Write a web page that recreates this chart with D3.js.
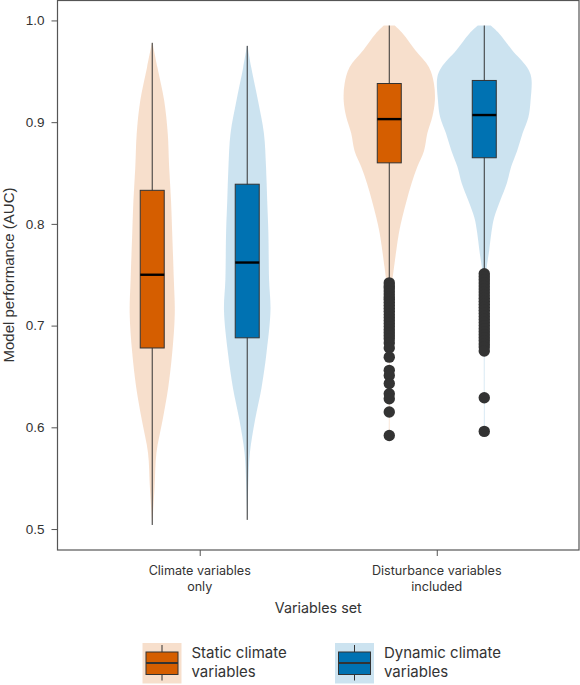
<!DOCTYPE html>
<html>
<head>
<meta charset="utf-8">
<style>
  html, body { margin: 0; padding: 0; background: #fff; }
  svg { display: block; }
  text { font-family: "Inter", sans-serif; fill: #333; }
</style>
<script src="https://cdn.jsdelivr.net/npm/d3@7"></script>
</head>
<body>
<svg width="580" height="685"></svg>
<script>
// categories and legend
var categories = ["Climate variables only", "Disturbance variables included"];
var categoryLines = [["Climate variables", "only"], ["Disturbance variables", "included"]];
var groups = ["static", "dynamic"];
var groupLines = [["Static climate", "variables"], ["Dynamic climate", "variables"]];
var yTicks = [0.5, 0.6, 0.7, 0.8, 0.9, 1.0];

// violin outlines: AUC and relative density
var climStaticAuc = [0.978, 0.954, 0.921, 0.889, 0.856, 0.823, 0.791, 0.745, 0.712, 0.673, 0.639, 0.607, 0.575, 0.541, 0.504];
var climStaticDens = [0.006, 0.11, 0.255, 0.33, 0.36, 0.40, 0.425, 0.46, 0.48, 0.425, 0.34, 0.22, 0.09, 0.05, 0];
var climDynamicAuc = [0.975, 0.954, 0.921, 0.889, 0.856, 0.823, 0.791, 0.745, 0.715, 0.673, 0.639, 0.607, 0.575, 0.541, 0.509];
var climDynamicDens = [0.006, 0.085, 0.23, 0.355, 0.40, 0.425, 0.45, 0.465, 0.495, 0.41, 0.305, 0.165, 0.057, 0.02, 0];
var distStaticAuc = [0.995, 0.987, 0.971, 0.954, 0.938, 0.921, 0.905, 0.889, 0.872, 0.856, 0.840, 0.823, 0.806, 0.791, 0.774, 0.757, 0.745, 0.735, 0.686, 0.590];
var distStaticDens = [0.117, 0.29, 0.55, 0.845, 0.95, 0.97, 0.915, 0.81, 0.74, 0.595, 0.475, 0.37, 0.275, 0.205, 0.15, 0.10, 0.065, 0.02, 0.008, 0.008];
var distDynamicAuc = [0.995, 0.987, 0.971, 0.954, 0.944, 0.921, 0.905, 0.889, 0.872, 0.856, 0.840, 0.823, 0.806, 0.791, 0.774, 0.757, 0.745, 0.725, 0.597];
var distDynamicDens = [0.138, 0.32, 0.59, 0.91, 1, 0.985, 0.94, 0.815, 0.70, 0.57, 0.48, 0.34, 0.21, 0.15, 0.105, 0.05, 0.02, 0.012, 0.008];

// box stats, one entry per violin: clim static, clim dynamic, dist static, dist dynamic
var whiskerHigh = [0.978, 0.975, 0.995, 0.995];
var q3 = [0.833, 0.839, 0.938, 0.941];
var medians = [0.750, 0.762, 0.903, 0.907];
var q1 = [0.678, 0.688, 0.860, 0.865];
var whiskerLow = [0.504, 0.509, 0.745, 0.753];

// outliers
var distStaticOutliers = [0.742, 0.739, 0.737, 0.734, 0.731, 0.728, 0.726, 0.723, 0.72, 0.717, 0.714, 0.711, 0.708, 0.705, 0.702, 0.699, 0.696, 0.693, 0.69, 0.687, 0.683, 0.678, 0.669, 0.656, 0.651, 0.643, 0.633, 0.628, 0.615, 0.592];
var distDynamicOutliers = [0.751, 0.748, 0.745, 0.742, 0.739, 0.736, 0.733, 0.73, 0.727, 0.724, 0.721, 0.718, 0.715, 0.712, 0.709, 0.706, 0.703, 0.7, 0.697, 0.694, 0.691, 0.688, 0.685, 0.682, 0.679, 0.675, 0.629, 0.596];

var colours = ["#D55E00", "#0072B2"];
var ink = "#333";
var helvetica = "'Liberation Sans', sans-serif";

window.onload = function() {
    var svg = d3.select("svg");
    var left = 57.5, right = 579, top = 0.5, bottom = 550;

    var x = d3.scalePoint().domain(categories).range([left, right]).padding(0.6);
    var dodge = d3.scalePoint().domain(groups).range([-47.5, 47.5]);
    var y = d3.scaleLinear().domain([0.4794, 1.0196]).range([bottom, top]);
    var halfWidth = d3.scaleLinear().domain([0, 1]).range([0, 47]);

    var violins = [
        { cat: 0, grp: 0, auc: climStaticAuc, dens: climStaticDens, out: [] },
        { cat: 0, grp: 1, auc: climDynamicAuc, dens: climDynamicDens, out: [] },
        { cat: 1, grp: 0, auc: distStaticAuc, dens: distStaticDens, out: distStaticOutliers },
        { cat: 1, grp: 1, auc: distDynamicAuc, dens: distDynamicDens, out: distDynamicOutliers }
    ];
    violins.forEach(function(v, i) {
        v.i = i;
        v.cx = x(categories[v.cat]) + dodge(groups[v.grp]);
        v.colour = colours[v.grp];
    });

    // violins
    svg.selectAll(".violin")
        .data(violins)
        .enter()
        .append("path")
        .attr("class", "violin")
        .attr("fill", function(d) { return d.colour; })
        .attr("fill-opacity", 0.2)
        .attr("d", function(d) {
            var area = d3.area()
                .curve(d3.curveCatmullRom)
                .y(function(a) { return y(a); })
                .x0(function(a, k) { return d.cx - halfWidth(d.dens[k]); })
                .x1(function(a, k) { return d.cx + halfWidth(d.dens[k]); });
            return area(d.auc);
        });

    // whiskers
    svg.selectAll(".whisker")
        .data(violins)
        .enter()
        .append("line")
        .attr("class", "whisker")
        .attr("x1", function(d) { return d.cx; })
        .attr("x2", function(d) { return d.cx; })
        .attr("y1", function(d) { return y(whiskerHigh[d.i]); })
        .attr("y2", function(d) { return y(whiskerLow[d.i]); })
        .attr("stroke", ink)
        .attr("stroke-width", 1);

    // boxes
    svg.selectAll(".box")
        .data(violins)
        .enter()
        .append("rect")
        .attr("class", "box")
        .attr("x", function(d) { return d.cx - 12; })
        .attr("width", 24)
        .attr("y", function(d) { return y(q3[d.i]); })
        .attr("height", function(d) { return y(q1[d.i]) - y(q3[d.i]); })
        .attr("fill", function(d) { return d.colour; })
        .attr("stroke", ink)
        .attr("stroke-width", 1);

    svg.selectAll(".median")
        .data(violins)
        .enter()
        .append("line")
        .attr("class", "median")
        .attr("x1", function(d) { return d.cx - 12; })
        .attr("x2", function(d) { return d.cx + 12; })
        .attr("y1", function(d) { return y(medians[d.i]); })
        .attr("y2", function(d) { return y(medians[d.i]); })
        .attr("stroke", "#000")
        .attr("stroke-width", 2.4);

    // outliers
    violins.forEach(function(v) {
        svg.selectAll(".pt" + v.i)
            .data(v.out)
            .enter()
            .append("circle")
            .attr("class", "pt" + v.i)
            .attr("cx", v.cx)
            .attr("cy", function(d) { return y(d); })
            .attr("r", 5.7)
            .attr("fill", ink);
    });

    // frame
    svg.append("rect")
        .attr("x", left)
        .attr("y", top)
        .attr("width", right - left)
        .attr("height", bottom - top)
        .attr("fill", "none")
        .attr("stroke", "#555")
        .attr("stroke-width", 1.2);

    // axes
    var yAxis = svg.append("g")
        .attr("transform", "translate(" + left + ",0)")
        .call(d3.axisLeft(y).tickValues(yTicks).tickSize(6).tickPadding(7).tickFormat(d3.format(".1f")));
    yAxis.select(".domain").remove();
    yAxis.selectAll("line").attr("stroke", "#555");
    yAxis.selectAll("text").attr("font-size", 13.5).style("font-family", helvetica);

    var xAxis = svg.append("g")
        .attr("transform", "translate(0," + bottom + ")")
        .call(d3.axisBottom(x).tickSize(6).tickFormat(""));
    xAxis.select(".domain").remove();
    xAxis.selectAll("line").attr("stroke", "#555");

    svg.selectAll(".catlabel")
        .data(categoryLines)
        .enter()
        .append("text")
        .attr("class", "catlabel")
        .attr("text-anchor", "middle")
        .attr("font-size", 12.6)
        .attr("y", 575)
        .each(function(d, i) {
            d3.select(this).selectAll("tspan")
                .data(d)
                .enter()
                .append("tspan")
                .attr("x", x(categories[i]))
                .attr("dy", function(t, k) { return k ? 15.5 : 0; })
                .text(function(t) { return t; });
        });

    svg.append("text")
        .attr("x", (left + right) / 2)
        .attr("y", 613)
        .attr("text-anchor", "middle")
        .attr("font-size", 14.3)
        .text("Variables set");

    svg.append("text")
        .attr("transform", "translate(14,275) rotate(-90)")
        .attr("text-anchor", "middle")
        .attr("font-size", 15)
        .style("font-family", helvetica)
        .text("Model performance (AUC)");

    // legend
    var keyX = d3.scalePoint().domain(groups).range([142.5, 335]);
    var key = svg.selectAll(".key")
        .data(groups)
        .enter()
        .append("g")
        .attr("class", "key")
        .attr("transform", function(d) { return "translate(" + keyX(d) + ",643)"; });

    key.append("rect")
        .attr("width", 39)
        .attr("height", 40.5)
        .attr("fill", function(d, i) { return colours[i]; })
        .attr("fill-opacity", 0.2);
    key.append("line")
        .attr("x1", 19.5)
        .attr("x2", 19.5)
        .attr("y1", 2)
        .attr("y2", 37.5)
        .attr("stroke", ink);
    key.append("rect")
        .attr("x", 3.5)
        .attr("y", 9)
        .attr("width", 32)
        .attr("height", 22.5)
        .attr("fill", function(d, i) { return colours[i]; })
        .attr("stroke", ink);
    key.append("line")
        .attr("x1", 3.5)
        .attr("x2", 35.5)
        .attr("y1", 20)
        .attr("y2", 20)
        .attr("stroke", ink)
        .attr("stroke-width", 2);
    key.append("text")
        .attr("font-size", 15)
        .each(function(d, i) {
            d3.select(this).selectAll("tspan")
                .data(groupLines[i])
                .enter()
                .append("tspan")
                .attr("x", 49)
                .attr("y", function(t, k) { return 15 + k * 18.5; })
                .text(function(t) { return t; });
        });
};
</script>
</body>
</html>
